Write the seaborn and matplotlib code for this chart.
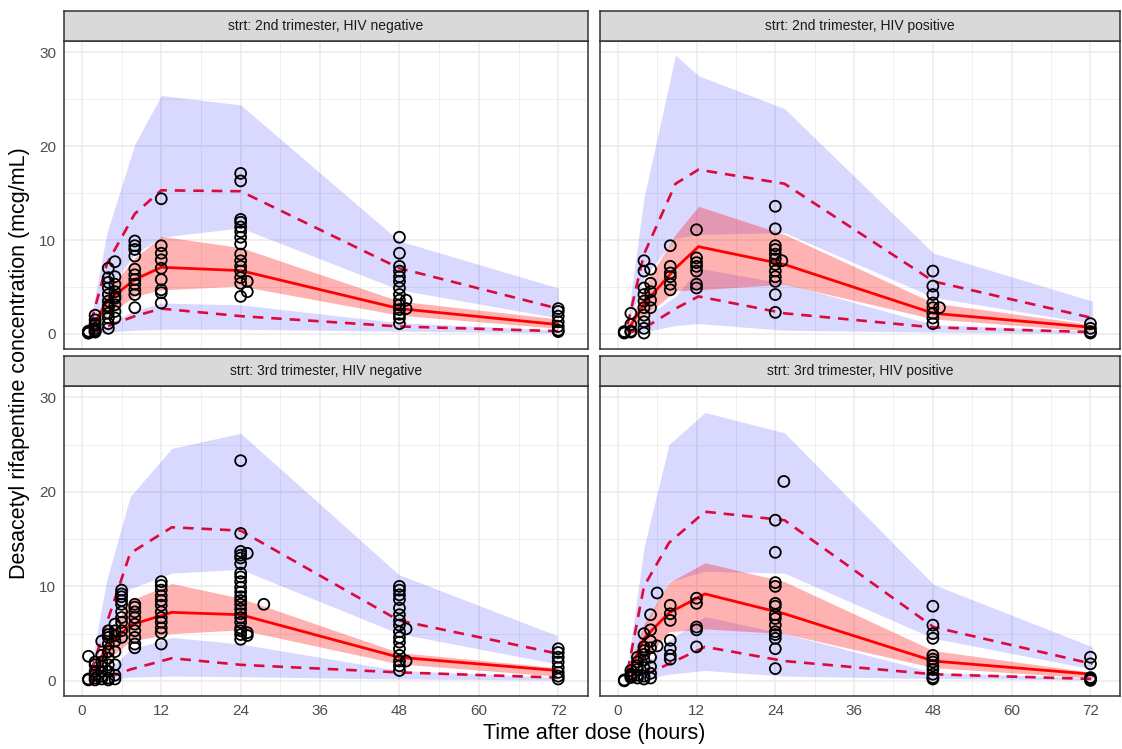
import pandas as pd
import seaborn as sns
import matplotlib.pyplot as plt
from matplotlib.ticker import MultipleLocator

panel_titles = [
    "strt: 2nd trimester, HIV negative",
    "strt: 2nd trimester, HIV positive",
    "strt: 3rd trimester, HIV negative",
    "strt: 3rd trimester, HIV positive",
]

# --- simulated / observed percentiles per bin ---------------------------
# 2nd trimester, HIV negative
bin_time_tl = [1.4, 3.8, 8.0, 12.0, 24.0, 48.0, 72.0]
p95_hi_tl = [1.8, 10.8, 20.2, 25.4, 24.4, 9.9, 4.9]
p95_lo_tl = [0.8, 4.5, 8.5, 10.3, 11.3, 4.7, 1.7]
p50_hi_tl = [0.7, 4.5, 8.1, 10.4, 9.2, 3.5, 1.6]
p50_lo_tl = [0.3, 2.0, 4.0, 4.7, 5.1, 2.0, 0.6]
p05_hi_tl = [0.3, 1.0, 2.5, 3.3, 3.1, 1.2, 0.4]
p05_lo_tl = [0.05, 0.2, 0.4, 0.5, 0.5, 0.3, 0.1]
obs_med_tl = [0.5, 3.5, 5.8, 7.1, 6.75, 2.7, 1.0]
obs_p95_tl = [1.3, 7.5, 12.8, 15.3, 15.2, 7.0, 2.7]
obs_p05_tl = [0.1, 0.8, 1.9, 2.7, 1.9, 0.8, 0.3]

# 2nd trimester, HIV positive
bin_time_tr = [1.5, 4.0, 8.8, 12.3, 25.4, 48.1, 72.3]
p95_hi_tr = [1.5, 14.5, 29.7, 27.5, 24.0, 8.6, 3.5]
p95_lo_tr = [0.8, 6.0, 10.2, 10.6, 10.8, 3.9, 1.1]
p50_hi_tr = [0.6, 5.0, 10.6, 13.6, 10.6, 3.3, 1.0]
p50_lo_tr = [0.2, 1.8, 4.6, 4.7, 5.3, 1.6, 0.3]
p05_hi_tr = [0.3, 1.7, 4.0, 7.0, 5.4, 1.0, 0.3]
p05_lo_tr = [0.05, 0.2, 0.9, 1.1, 0.4, 0.2, 0.05]
obs_med_tr = [0.4, 3.2, 7.0, 9.3, 7.4, 2.2, 0.7]
obs_p95_tr = [1.0, 8.5, 16.0, 17.5, 16.0, 5.6, 1.7]
obs_p05_tr = [0.1, 0.6, 2.7, 4.0, 2.2, 0.7, 0.2]

# 3rd trimester, HIV negative
bin_time_bl = [1.4, 3.7, 7.3, 13.6, 24.0, 47.9, 71.8]
p95_hi_bl = [1.5, 10.5, 19.5, 24.6, 26.2, 11.25, 4.8]
p95_lo_bl = [0.7, 5.0, 9.75, 11.4, 11.8, 5.0, 1.8]
p50_hi_bl = [0.6, 4.6, 8.5, 10.3, 8.75, 3.0, 1.4]
p50_lo_bl = [0.2, 2.1, 4.2, 5.0, 5.4, 1.8, 0.5]
p05_hi_bl = [0.2, 1.0, 3.3, 4.6, 3.9, 1.1, 0.35]
p05_lo_bl = [0.02, 0.1, 0.4, 0.5, 0.45, 0.2, 0.1]
obs_med_bl = [0.3, 3.5, 5.9, 7.25, 7.0, 2.5, 1.1]
obs_p95_bl = [1.0, 6.0, 13.5, 16.25, 15.9, 6.4, 2.9]
obs_p05_bl = [0.1, 0.3, 1.2, 2.4, 1.7, 0.9, 0.35]

# 3rd trimester, HIV positive
bin_time_br = [1.5, 4.0, 7.8, 13.3, 25.4, 48.1, 72.3]
p95_hi_br = [1.5, 14.1, 25.0, 28.4, 26.25, 10.2, 3.6]
p95_lo_br = [0.8, 5.5, 10.5, 11.6, 11.4, 4.5, 1.25]
p50_hi_br = [0.7, 6.0, 10.4, 12.5, 10.5, 3.2, 0.9]
p50_lo_br = [0.2, 2.0, 5.2, 5.5, 5.0, 1.4, 0.3]
p05_hi_br = [0.2, 1.5, 4.3, 6.8, 5.0, 0.9, 0.3]
p05_lo_br = [0.02, 0.2, 0.7, 1.1, 0.5, 0.25, 0.1]
obs_med_br = [0.5, 4.5, 7.2, 9.2, 7.1, 2.1, 0.7]
obs_p95_br = [1.0, 10.0, 14.6, 17.9, 17.0, 5.7, 1.8]
obs_p05_br = [0.1, 0.6, 1.8, 3.6, 2.1, 0.7, 0.2]

# --- observed concentrations (time after dose -> values) ----------------
obs_tl = {
    1: [0.1, 0.2, 0.3, 0.15, 0.25, 0.1, 0.2],
    2: [2.0, 1.5, 1.1, 0.6, 0.3, 0.2, 0.9, 0.4],
    4: [7.0, 6.0, 4.9, 4.2, 3.5, 2.8, 2.2, 1.7, 1.1, 0.6, 5.5, 3.0],
    5: [7.7, 6.1, 5.3, 4.5, 3.8, 3.1, 2.4, 1.7, 4.0],
    8: [9.9, 9.4, 9.0, 8.3, 6.9, 6.3, 5.8, 5.3, 4.7, 4.2, 2.8],
    12: [14.4, 9.4, 8.6, 7.9, 7.0, 5.8, 4.7, 4.4, 3.3],
    24: [17.1, 16.3, 12.2, 11.9, 11.4, 10.9, 10.3, 9.6, 8.5, 7.8, 7.2, 6.7, 6.0, 5.4, 4.0],
    25: [5.6, 4.5],
    48: [10.3, 8.6, 7.2, 6.7, 6.1, 5.6, 4.9, 4.2, 3.6, 3.1, 2.6, 2.1, 1.7, 1.1],
    49: [3.6, 2.7],
    72: [2.7, 2.4, 1.9, 1.3, 0.8, 0.4, 0.25],
}
obs_tr = {
    1: [0.2, 0.1, 0.15, 0.25],
    2: [2.2, 1.0, 0.3, 0.2],
    4: [7.8, 6.7, 4.9, 4.2, 3.5, 2.8, 2.0, 1.3, 0.6, 0.1],
    5: [6.9, 5.4, 4.5, 3.6, 2.8],
    8: [9.4, 7.2, 6.1, 5.3, 4.7, 6.5],
    12: [11.1, 8.1, 7.6, 7.2, 6.7, 5.3, 4.9],
    24: [13.6, 11.2, 9.4, 9.0, 8.5, 8.0, 7.4, 6.7, 6.1, 5.6, 4.2, 2.3],
    25: [7.8],
    48: [6.7, 5.1, 4.2, 3.3, 2.8, 2.2, 1.7, 1.1],
    49: [2.8],
    72: [1.1, 0.6, 0.25, 0.1],
}
obs_bl = {
    1: [2.6, 0.1, 0.2],
    2: [0.3, 0.6, 1.0, 1.7, 2.0, 0.1],
    3: [4.2, 1.0, 0.5, 0.2, 2.0, 1.5, 2.7],
    4: [5.3, 4.9, 4.6, 3.9, 3.1, 2.4, 1.7, 1.0, 0.3, 0.1],
    5: [6.0, 5.3, 4.2, 3.1, 1.7, 0.6, 0.2, 4.8],
    6: [9.6, 9.2, 8.9, 8.5, 8.1, 7.3, 6.7, 6.2, 5.3, 4.6],
    8: [8.1, 7.8, 7.3, 6.7, 6.0, 5.3, 4.6, 3.9, 3.5],
    12: [10.5, 10.1, 9.6, 9.0, 8.5, 8.0, 7.3, 6.7, 6.2, 5.6, 5.1, 3.9],
    24: [23.3, 15.6, 13.7, 13.3, 13.0, 12.4, 11.4, 11.0, 10.5, 9.9, 9.4, 8.9, 8.5,
         8.1, 7.6, 7.1, 6.7, 6.2, 5.6, 5.3, 4.4, 4.9],
    25: [13.5, 5.1, 4.8],
    27.5: [8.1],
    48: [10.0, 9.6, 9.1, 8.6, 7.7, 7.0, 6.4, 5.9, 5.2, 4.6, 4.1, 3.4, 2.7, 2.1, 1.6, 1.1],
    49: [5.5, 2.1],
    72: [3.4, 3.0, 2.5, 2.0, 1.4, 0.9, 0.5, 0.2],
}
obs_br = {
    1: [0.0, 0.1],
    2: [1.1, 0.7, 0.35, 0.5],
    3: [2.0, 1.2, 0.6, 0.3, 1.6, 2.5],
    4: [5.0, 3.2, 2.2, 1.4, 0.5, 0.2, 2.8, 3.6],
    5: [7.0, 5.4, 4.2, 3.5, 2.5, 1.5, 0.8, 0.3],
    6: [9.3, 3.7],
    8: [8.0, 7.1, 6.4, 4.3, 3.4, 2.7, 2.3],
    12: [8.75, 8.2, 5.7, 5.4, 3.6],
    24: [17.0, 13.6, 10.4, 10.0, 8.2, 7.9, 7.0, 6.6, 5.9, 5.2, 4.9, 4.5, 3.4, 1.3],
    25.3: [21.1],
    48: [7.9, 5.9, 5.0, 4.5, 2.7, 2.3, 2.0, 1.6, 1.2, 0.7, 0.35, 0.2],
    72: [2.5, 1.8, 0.35, 0.2, 0.05],
}

panels = [
    (bin_time_tl, p95_hi_tl, p95_lo_tl, p50_hi_tl, p50_lo_tl, p05_hi_tl, p05_lo_tl,
     obs_med_tl, obs_p95_tl, obs_p05_tl, obs_tl),
    (bin_time_tr, p95_hi_tr, p95_lo_tr, p50_hi_tr, p50_lo_tr, p05_hi_tr, p05_lo_tr,
     obs_med_tr, obs_p95_tr, obs_p05_tr, obs_tr),
    (bin_time_bl, p95_hi_bl, p95_lo_bl, p50_hi_bl, p50_lo_bl, p05_hi_bl, p05_lo_bl,
     obs_med_bl, obs_p95_bl, obs_p05_bl, obs_bl),
    (bin_time_br, p95_hi_br, p95_lo_br, p50_hi_br, p50_lo_br, p05_hi_br, p05_lo_br,
     obs_med_br, obs_p95_br, obs_p05_br, obs_br),
]

sns.set_style("white")
plt.rcParams['font.family'] = ['Liberation Sans', 'DejaVu Sans']

W, H = 1122, 749
fig = plt.figure(figsize=(W / 100, H / 100), dpi=100)

# panel boxes in pixels: x0, y0, x1, y1 (y from top)
boxes = [(64, 41, 588, 349), (600, 41, 1120, 349),
         (64, 386, 588, 696), (600, 386, 1120, 696)]
strip_h = 30

for i, (box, title, p) in enumerate(zip(boxes, panel_titles, panels)):
    x0, y0, x1, y1 = box
    ax = fig.add_axes([x0 / W, 1 - y1 / H, (x1 - x0) / W, (y1 - y0) / H])
    (t, hi_hi, hi_lo, md_hi, md_lo, lo_hi, lo_lo, o_md, o_hi, o_lo, obs) = p

    ax.fill_between(t, hi_lo, hi_hi, color='blue', alpha=0.15, lw=0)
    ax.fill_between(t, lo_lo, lo_hi, color='blue', alpha=0.15, lw=0)
    ax.fill_between(t, md_lo, md_hi, color='red', alpha=0.3, lw=0)

    sns.lineplot(x=t, y=o_md, ax=ax, color='red', lw=2.0)
    for yy in (o_hi, o_lo):
        sns.lineplot(x=t, y=yy, ax=ax, color='#DC0A3C', lw=1.9,
                     linestyle=(0, (4, 3)))

    df = pd.DataFrame([(tt, c) for tt, vals in obs.items() for c in vals],
                      columns=['time', 'conc'])
    sns.scatterplot(data=df, x='time', y='conc', ax=ax, marker='o', s=62,
                    fc='none', ec='black', linewidth=1.3, zorder=5)

    ax.set_xlim(-2.7, 76.5)
    ax.set_ylim(-1.6, 31.2)
    ax.xaxis.set_major_locator(MultipleLocator(12))
    ax.xaxis.set_minor_locator(MultipleLocator(6))
    ax.yaxis.set_major_locator(MultipleLocator(10))
    ax.yaxis.set_minor_locator(MultipleLocator(5))
    ax.grid(which='major', color='#EBEBEB', lw=1.1)
    ax.grid(which='minor', color='#EBEBEB', lw=0.55)
    ax.set_axisbelow(True)
    for s in ax.spines.values():
        s.set_color('#333333')
        s.set_linewidth(1.1)
    ax.tick_params(which='major', length=3.5, width=1, color='#333333',
                   labelcolor='#4D4D4D', labelsize=11, pad=2)
    ax.tick_params(which='minor', length=0)
    ax.set_xlabel('')
    ax.set_ylabel('')
    if i < 2:
        ax.tick_params(axis='x', labelbottom=False)
    if i % 2 == 1:
        ax.tick_params(axis='y', labelleft=False)

    sax = fig.add_axes([x0 / W, 1 - y0 / H, (x1 - x0) / W, strip_h / H])
    sax.set_facecolor('#D9D9D9')
    sax.set_xticks([])
    sax.set_yticks([])
    for s in sax.spines.values():
        s.set_color('#333333')
        s.set_linewidth(1.1)
    sax.text(0.5, 0.5, title, ha='center', va='center', fontsize=10,
             color='#1A1A1A', transform=sax.transAxes)

fig.text(594 / W, 1 - 733 / H, 'Time after dose (hours)', ha='center',
         va='center', fontsize=15.5, color='black')
fig.text(20 / W, 1 - 363 / H, 'Desacetyl rifapentine concentration (mcg/mL)',
         ha='center', va='center', rotation=90, fontsize=15.5, color='black')

fig.savefig('out.png', dpi=100)
